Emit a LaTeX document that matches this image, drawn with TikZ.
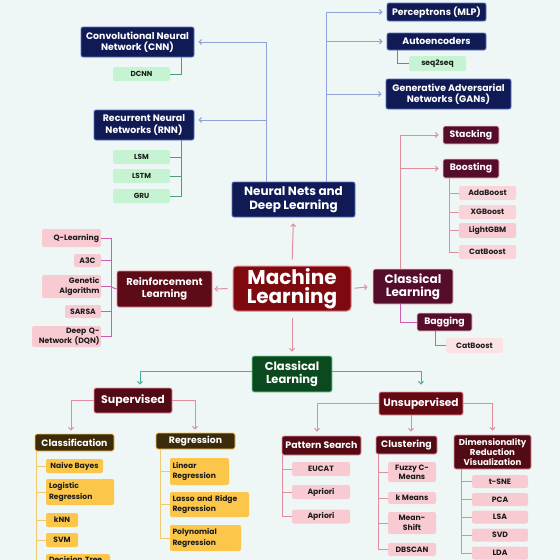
\documentclass[tikz,border=0pt]{standalone}
\usepackage{fontspec}
\setmainfont{Poppins}
\usetikzlibrary{arrows.meta}
\definecolor{bg}{HTML}{EFF7F6}
\definecolor{navy}{HTML}{101A55}
\definecolor{navyb}{HTML}{5A70C4}
\definecolor{lgreen}{HTML}{C6F4D2}
\definecolor{bline}{HTML}{8FA2DA}
\definecolor{gline}{HTML}{4E9E78}
\definecolor{mlred}{HTML}{7E0A10}
\definecolor{mlb}{HTML}{E8858C}
\definecolor{pline}{HTML}{E08E9E}
\definecolor{rlfill}{HTML}{5D0B16}
\definecolor{pinkit}{HTML}{F8CBD2}
\definecolor{mline}{HTML}{CC5FB4}
\definecolor{clfill}{HTML}{560D2C}
\definecolor{pinklt}{HTML}{F9D5DA}
\definecolor{dgreen}{HTML}{0B4A1E}
\definecolor{dgreenb}{HTML}{7BD69E}
\definecolor{tline}{HTML}{45B09A}
\definecolor{supfill}{HTML}{520A14}
\definecolor{supb}{HTML}{EE8FA0}
\definecolor{olive}{HTML}{3B2B0B}
\definecolor{yel}{HTML}{FBC64A}
\definecolor{yline}{HTML}{F0C870}
\definecolor{ink}{HTML}{1C1C1C}
\newcommand\myfs[2]{\bfseries\fontsize{#1}{#2}\selectfont}
\tikzset{
  wh/.style 2 args={minimum width=#1pt, minimum height=#2pt},
  box/.style={inner sep=0pt, rounded corners=2pt, align=center},
  navybox/.style={box, fill=navy, draw=navyb, line width=0.8pt, text=white, font=\myfs{9.4}{11.2}},
  gitem/.style={box, fill=lgreen, text=ink, font=\myfs{7.3}{8.5}},
  pitem/.style={box, fill=pinkit, text=ink, font=\myfs{7.7}{9.5}},
  litem/.style={box, fill=pinklt, text=ink, font=\myfs{7.7}{9.5}},
  yitem/.style={box, fill=yel, text=ink, font=\myfs{7.6}{10.8}},
  marbox/.style={box, fill=clfill, draw=pinkit, line width=0.8pt, text=white, font=\myfs{9.3}{11}},
  supbox/.style={box, fill=supfill, draw=supb, line width=0.8pt, text=white},
  olbox/.style={box, fill=olive, draw=yel, line width=0.8pt, text=white, font=\myfs{9.3}{11}},
  conn/.style={line width=1pt},
  tip/.style={-{Straight Barb[length=2.5pt,width=5pt]}},
  bl/.style={conn, draw=bline},
  gl/.style={conn, draw=gline},
  pl/.style={conn, draw=pline},
  ml/.style={conn, draw=mline},
  tl/.style={conn, draw=tline},
  yl/.style={conn, draw=yline},
}
\begin{document}
\begin{tikzpicture}[x=1pt,y=-1pt]
\fill[bg] (0,0) rectangle (560,560);
\useasboundingbox (0,0) rectangle (560,560);
\clip (0,0) rectangle (560,560);

% ---------- Neural nets ----------
\node[navybox, wh={113}{30}] (cnn) at (137.5,42) {Convolutional Neural\\Network (CNN)};
\node[gitem, wh={57}{14}] (dcnn) at (141.5,74) {DCNN};
\node[navybox, wh={100}{30}] (rnn) at (144,125) {Recurrent Neural\\Networks (RNN)};
\node[gitem, wh={57}{14}] (lsm) at (141.5,157) {LSM};
\node[gitem, wh={57}{14}] (lstm) at (141.5,176) {LSTM};
\node[gitem, wh={57}{14}] (gru) at (141.5,196) {GRU};
\node[navybox, wh={99}{18}] (perc) at (436.5,12) {Perceptrons (MLP)};
\node[navybox, wh={99}{17}] (auto) at (436.5,41.5) {Autoencoders};
\node[gitem, wh={57}{15}, font=\myfs{7.6}{9}] (seq) at (437.5,63.5) {seq2seq};
\node[navybox, wh={125}{30}] (gan) at (448.5,94) {Generative Adversarial\\Networks (GANs)};
\node[navybox, wh={123}{35}, font=\myfs{12}{13.5}] (nn) at (293.5,199.5) {Neural Nets and\\Deep Learning};

% ---------- Centre ----------
\node[box, fill=mlred, draw=mlb, line width=1pt, rounded corners=4pt, text=white, font=\myfs{20}{19.5}, wh={118}{45}] (ml) at (292,288.5) {Machine\\Learning};
\node[box, fill=rlfill, draw=mlb, line width=0.8pt, text=white, font=\myfs{10}{11.5}, wh={95}{36}] (rl) at (164.5,289) {Reinforcement\\Learning};
\node[marbox, wh={80}{35}, font=\myfs{12}{13}] (clr) at (413,286.5) {Classical\\Learning};
\node[box, fill=dgreen, draw=dgreenb, line width=0.8pt, text=white, font=\myfs{11.5}{12.5}, wh={80}{36}] (clg) at (292,374) {Classical\\Learning};

% ---------- Reinforcement items ----------
\node[pitem, wh={59}{18}, text width=55pt, align=right] (ql) at (71.5,238) {Q-Learning};
\node[pitem, wh={27}{13}] (a3c) at (87.5,260.5) {A3C};
\node[pitem, wh={59}{23}, text width=56pt, align=right] (gen) at (71.5,286.5) {Genetic\\Algorithm};
\node[pitem, wh={36}{13}] (sarsa) at (83,311.5) {SARSA};
\node[pitem, wh={69}{21}, text width=66pt, align=right] (dqn) at (66.5,336.5) {Deep Q-\\Network (DQN)};
\coordinate (rlj) at (111,287);

% ---------- Classical (ensembles) ----------
\node[marbox, wh={56}{18}] (stack) at (471,135) {Stacking};
\node[marbox, wh={56}{19}] (boost) at (471,168.5) {Boosting};
\node[litem, wh={57}{14}] (ada) at (487.5,193) {AdaBoost};
\node[litem, wh={57}{14}] (xgb) at (487.5,212) {XGBoost};
\node[litem, wh={57}{15}, fill=pinkit] (lgbm) at (487.5,230.5) {LightGBM};
\node[litem, wh={57}{14}] (cb1) at (487.5,252) {CatBoost};
\node[marbox, wh={55}{18}] (bag) at (444.5,322) {Bagging};
\node[litem, wh={57}{15}, fill=pinklt!70!white] (cb2) at (474.5,345.5) {CatBoost};

% ---------- Supervised ----------
\node[supbox, wh={78}{25}, font=\myfs{11}{12}] (sup) at (133,400.5) {Supervised};
\node[olbox, wh={79}{17}] (class) at (74.5,442.5) {Classification};
\node[olbox, wh={79}{16}] (reg) at (195.5,441) {Regression};
\node[yitem, wh={57}{14}] (nb) at (74.5,466) {Naive Bayes};
\node[yitem, wh={68}{26}, text width=62pt, align=left] (logr) at (80,492) {Logistic\\Regression};
\node[yitem, wh={32}{14}] (knn) at (62,520) {kNN};
\node[yitem, wh={32}{14}] (svm) at (62,540) {SVM};
\node[yitem, text width=58pt, align=left, inner xsep=3pt, inner ysep=2pt, anchor=north] (dt) at (78,554) {Decision Tree\\\mbox{}};
\node[yitem, wh={59}{27}, text width=54pt, align=left] (lin) at (199.5,471.5) {Linear\\Regression};
\node[yitem, wh={79}{25}, text width=74pt, align=left] (lasso) at (209.5,504.5) {Lasso and Ridge\\Regression};
\node[yitem, wh={71}{26}, text width=66pt, align=left] (poly) at (205.5,538) {Polynomial\\Regression};

% ---------- Unsupervised ----------
\node[supbox, wh={84}{23}, font=\myfs{10.6}{12}, fill=supfill!90!red] (unsup) at (421,403.5) {Unsupervised};
\node[supbox, wh={79}{19}, font=\myfs{9.4}{11}] (pat) at (321.5,445.5) {Pattern Search};
\node[supbox, wh={61}{18}, font=\myfs{9.4}{11}] (clu) at (406.5,445) {Clustering};
\node[supbox, wh={77}{34}, font=\myfs{8.6}{9.8}] (dim) at (492.5,452) {Dimensionality\\Reduction\\Visualization};
\node[pitem, wh={58}{14}] (eucat) at (321,469) {EUCAT};
\node[pitem, wh={58}{14}] (apr1) at (321,492) {Apriori};
\node[pitem, wh={58}{14}] (apr2) at (321,516.5) {Apriori};
\node[pitem, wh={48}{20}, font=\myfs{7.7}{8.8}] (fuzzy) at (412,472) {Fuzzy C-\\Means};
\node[pitem, wh={48}{12}] (kmeans) at (412,498) {k Means};
\node[pitem, wh={48}{22}, font=\myfs{7.7}{9.5}] (mshift) at (412,523) {Mean-\\Shift};
\node[pitem, wh={48}{13}] (dbscan) at (412,549.5) {DBSCAN};
\node[pitem, wh={56}{13}] (tsne) at (500,481.5) {t-SNE};
\node[pitem, wh={56}{13}] (pca) at (500,499.5) {PCA};
\node[pitem, wh={56}{13}] (lsa) at (500,517) {LSA};
\node[pitem, wh={56}{13}] (svd) at (500,535) {SVD};
\node[pitem, wh={56}{13}] (lda) at (500,553) {LDA};

% ---------- Connectors: neural nets ----------
\draw[bl,tip,shorten >=4pt] ([xshift=-27.5pt]nn.north) |- (cnn.east);
\draw[bl,tip,shorten >=4pt] ([xshift=-27.5pt]nn.north) |- ([yshift=5pt]rnn.east);
\draw[bl,tip,shorten >=4pt] ([xshift=32.5pt]nn.north) |- (perc.west);
\draw[bl,tip,shorten >=4pt] ([xshift=32.5pt]nn.north) |- (auto.west);
\draw[bl,tip,shorten >=4pt] ([xshift=32.5pt]nn.north) |- (gan.west);
\draw[gl] ([xshift=43.5pt]cnn.south) |- (dcnn.east);
\draw[gl] ([xshift=37pt]rnn.south) |- (lsm.east);
\draw[gl] ([xshift=37pt]rnn.south) |- (lstm.east);
\draw[gl] ([xshift=37pt]rnn.south) |- (gru.east);
\draw[gl] ([xshift=-39.5pt]auto.south) |- (seq.west);

% ---------- Connectors: centre ----------
\draw[pl,tip,shorten <=6pt,shorten >=6pt] (ml.north) -- (nn.south);
\draw[pl,tip,shorten <=5pt,shorten >=2pt] (ml.west) -- (rl.east);
\draw[pl,tip,shorten <=3pt,shorten >=5pt] (ml.east) -- (clr.west);
\draw[pl,tip,shorten <=6pt,shorten >=4pt] (ml.south) -- (clg.north);

% ---------- Connectors: reinforcement ----------
\draw[ml] (rl.west) -- (rlj);
\foreach \n in {ql,a3c,gen,sarsa,dqn} \draw[ml] (\n.east) -| (rlj);

% ---------- Connectors: ensembles ----------
\draw[pl,tip,shorten >=4pt] ([xshift=-13pt]clr.north) |- (stack.west);
\draw[pl,tip,shorten >=4pt] ([xshift=-13pt]clr.north) |- (boost.west);
\foreach \n in {ada,xgb,lgbm,cb1} \draw[pl] ([xshift=-22pt]boost.south) |- (\n.west);
\draw[ml] ([xshift=-13pt]clr.south) |- (bag.west);
\draw[ml] ([xshift=-9.5pt]bag.south) |- (cb2.west);

% ---------- Connectors: classical learning ----------
\draw[tl,tip,shorten >=3pt] ([yshift=3pt]clg.west) -| ([xshift=7pt]sup.north);
\draw[tl,tip,shorten >=7pt] ([yshift=3pt]clg.east) -| (unsup.north);
\draw[pl,tip,shorten >=3pt] (sup.west) -| ([xshift=-3.5pt]class.north);
\draw[pl,tip,shorten >=3pt] (sup.east) -| ([xshift=-0.5pt]reg.north);
\draw[pl,tip,shorten >=4pt] (unsup.west) -| ([xshift=-4.5pt]pat.north);
\draw[pl,tip,shorten >=4pt] (unsup.east) -| (dim.north);
\draw[pl,tip,shorten >=4pt] ([xshift=-10pt]unsup.south) -- ([xshift=4.5pt]clu.north);

\foreach \n in {nb,logr,knn,svm,dt} \draw[yl] ([xshift=1.5pt]class.south west) |- (\n.west);
\foreach \n in {lin,lasso,poly} \draw[yl] ([xshift=5pt]reg.south west) |- (\n.west);
\foreach \n in {eucat,apr1,apr2} \draw[pl] ([xshift=1pt]pat.south west) |- (\n.west);
\foreach \n in {fuzzy,kmeans,mshift,dbscan} \draw[pl] ([xshift=3pt]clu.south west) |- (\n.west);
\foreach \n in {tsne,pca,lsa,svd,lda} \draw[pl] ([xshift=8pt]dim.south west) |- (\n.west);
\end{tikzpicture}
\end{document}
